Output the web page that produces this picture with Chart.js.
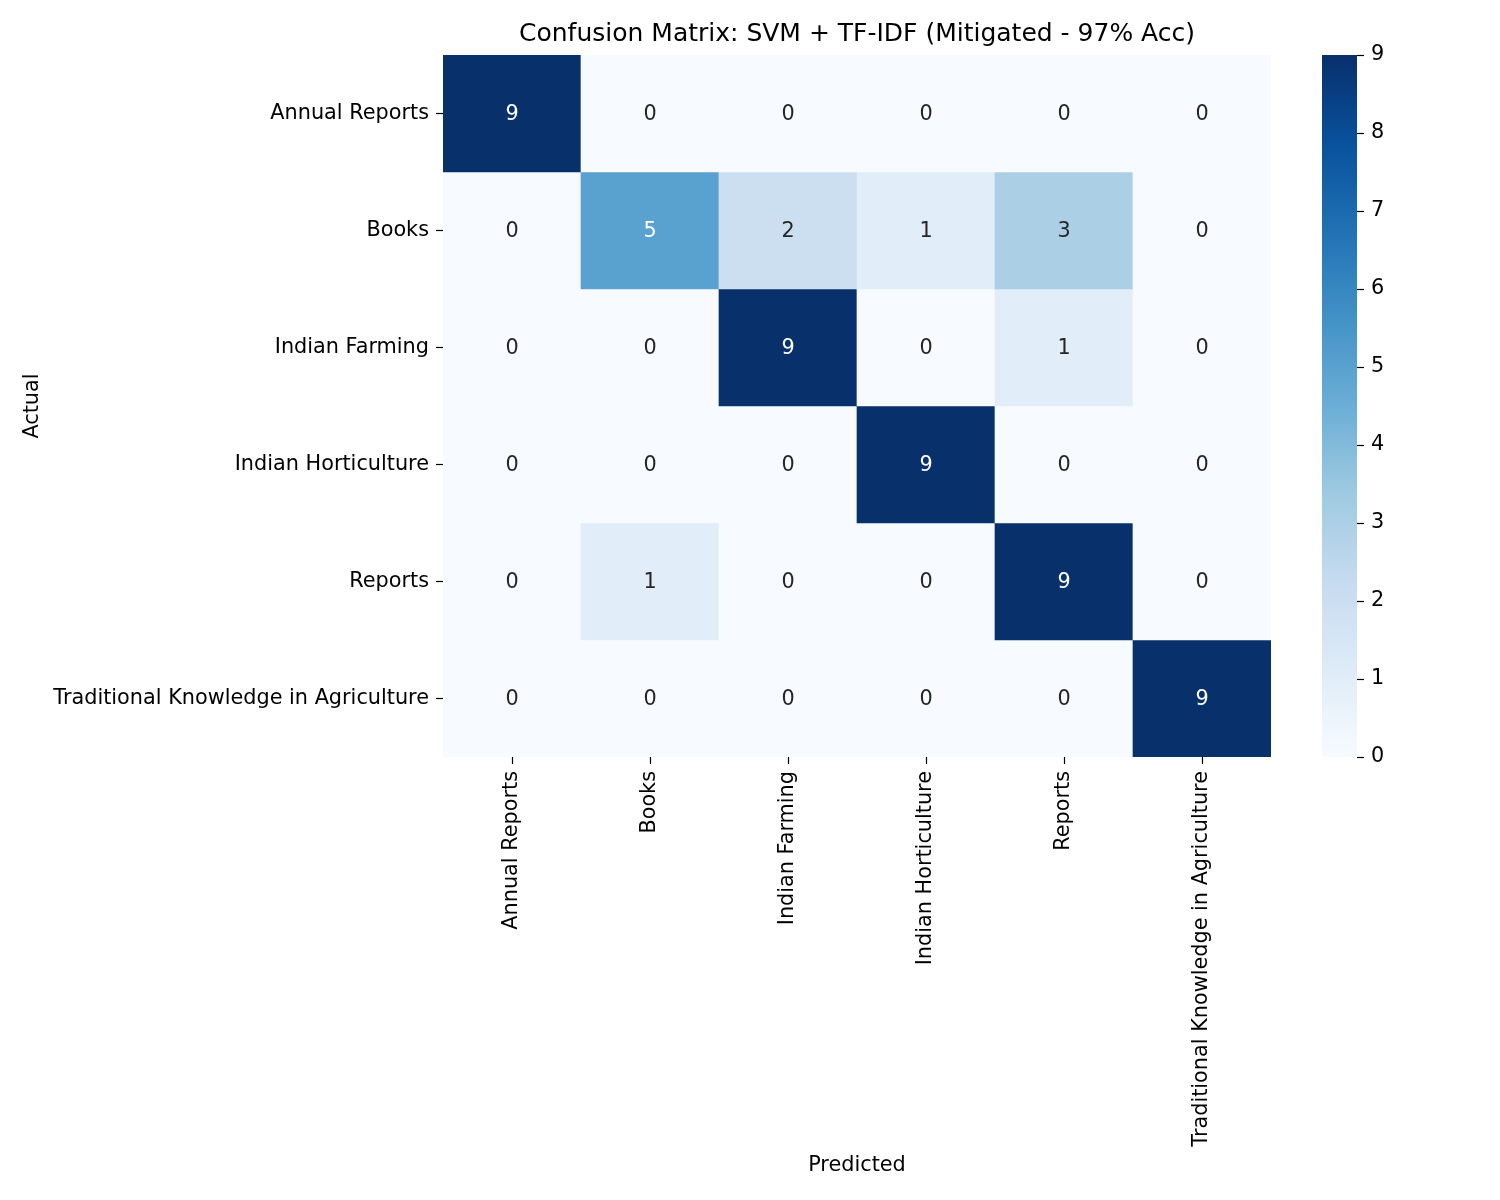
<!DOCTYPE html>
<html>
<head>
<meta charset="utf-8">
<script src="https://cdn.jsdelivr.net/npm/chart.js@4.4.1/dist/chart.umd.min.js"></script>
<style>
  html, body { margin: 0; padding: 0; background: #fff; }
  #wrap { position: relative; width: 1500px; height: 1200px; }
  #main { position: absolute; left: 0; top: 0; }
  #cbar { position: absolute; left: 1300px; top: 0; }
</style>
</head>
<body>
<div id="wrap">
  <canvas id="main" width="1500" height="1200"></canvas>
  <canvas id="cbar" width="120" height="1200"></canvas>
</div>
<script>
const classLabels = ['Annual Reports', 'Books', 'Indian Farming', 'Indian Horticulture', 'Reports', 'Traditional Knowledge in Agriculture'];

// rows = actual, columns = predicted
const rowAnnual = [9, 0, 0, 0, 0, 0];
const rowBooks = [0, 5, 2, 1, 3, 0];
const rowFarming = [0, 0, 9, 0, 1, 0];
const rowHorti = [0, 0, 0, 9, 0, 0];
const rowReports = [0, 1, 0, 0, 9, 0];
const rowTrad = [0, 0, 0, 0, 0, 9];
const matrix = [rowAnnual, rowBooks, rowFarming, rowHorti, rowReports, rowTrad];

const colorbarTicks = [0, 1, 2, 3, 4, 5, 6, 7, 8, 9];
const vmin = 0, vmax = 9;

// matplotlib "Blues"
const blues = ['#f7fbff', '#deebf7', '#c6dbef', '#9ecae1', '#6baed6', '#4292c6', '#2171b5', '#08519c', '#08306b'];

const FONT = 'DejaVu Sans';

function hexToRgb(h) {
    return [parseInt(h.slice(1, 3), 16), parseInt(h.slice(3, 5), 16), parseInt(h.slice(5, 7), 16)];
}

function cmap(t) {
    t = Math.max(0, Math.min(1, t));
    const pos = t * (blues.length - 1);
    const i = Math.min(Math.floor(pos), blues.length - 2);
    const f = pos - i;
    const a = hexToRgb(blues[i]), b = hexToRgb(blues[i + 1]);
    return a.map((c, k) => Math.round(c + (b[k] - c) * f));
}

function rgbStr(c) { return `rgb(${c[0]},${c[1]},${c[2]})`; }

function luminance(c) {
    const lin = c.map(v => {
        v = v / 255;
        return v <= 0.03928 ? v / 12.92 : Math.pow((v + 0.055) / 1.055, 2.4);
    });
    return 0.2126 * lin[0] + 0.7152 * lin[1] + 0.0722 * lin[2];
}

const datasets = matrix.map((row, r) => ({
    label: classLabels[r],
    data: row.map(() => [r, r + 1]),
    values: row,
    backgroundColor: row.map(v => rgbStr(cmap((v - vmin) / (vmax - vmin)))),
    borderWidth: 0,
    grouped: false,
    barPercentage: 1,
    categoryPercentage: 1
}));

// writes the count in the middle of each cell
const annotate = {
    id: 'annotate',
    afterDatasetsDraw(chart) {
        const ctx = chart.ctx;
        const xs = chart.scales.x, ys = chart.scales.y;
        ctx.save();
        ctx.font = `20.8px "${FONT}"`;
        ctx.textAlign = 'center';
        ctx.textBaseline = 'middle';
        chart.data.datasets.forEach((ds, r) => {
            ds.values.forEach((v, c) => {
                const col = cmap((v - vmin) / (vmax - vmin));
                ctx.fillStyle = luminance(col) > 0.408 ? '#262626' : '#ffffff';
                ctx.fillText(String(v), xs.getPixelForValue(c), ys.getPixelForValue(r + 0.5) + 1.5);
            });
        });
        ctx.restore();
    }
};

const tickFont = { family: FONT, size: 20.8 };

new Chart(document.getElementById('main'), {
    type: 'bar',
    data: { labels: classLabels, datasets: datasets },
    options: {
        responsive: false,
        animation: false,
        layout: { padding: { left: 0, right: 229, top: 0, bottom: 0 } },
        plugins: {
            legend: { display: false },
            tooltip: { enabled: false },
            title: {
                display: true,
                text: 'Confusion Matrix: SVM + TF-IDF (Mitigated - 97% Acc)',
                color: '#000',
                fullSize: false,
                font: { family: FONT, size: 25, weight: 'normal' },
                padding: { top: 19, bottom: 6 }
            }
        },
        scales: {
            x: {
                type: 'category',
                offset: true,
                afterFit: (scale) => { scale.height = 443; },
                grid: { offset: false, drawOnChartArea: false, drawTicks: true, tickLength: 7, tickColor: '#000', tickWidth: 1.2 },
                border: { display: false },
                ticks: { color: '#000', font: tickFont, minRotation: 90, maxRotation: 90, padding: 7, autoSkip: false },
                title: { display: true, text: 'Predicted', color: '#000', font: tickFont, padding: { top: 0, bottom: 22 } }
            },
            y: {
                type: 'linear',
                min: 0,
                max: classLabels.length,
                reverse: true,
                afterFit: (scale) => { scale.width = 443; },
                afterBuildTicks: (scale) => {
                    scale.ticks = classLabels.map((_, i) => ({ value: i + 0.5 }));
                },
                grid: { drawOnChartArea: false, drawTicks: true, tickLength: 7, tickColor: '#000', tickWidth: 1.2 },
                border: { display: false },
                ticks: {
                    color: '#000',
                    font: tickFont,
                    padding: 7,
                    autoSkip: false,
                    callback: (value) => classLabels[Math.floor(value)]
                },
                title: { display: true, text: 'Actual', color: '#000', font: tickFont, padding: { top: 20, bottom: 0 } }
            }
        }
    },
    plugins: [annotate]
});

// colour bar: one floating bar filled with the colormap gradient
new Chart(document.getElementById('cbar'), {
    type: 'bar',
    data: {
        labels: [''],
        datasets: [{
            data: [[vmin, vmax]],
            borderWidth: 0,
            barPercentage: 1,
            categoryPercentage: 1,
            backgroundColor: (ctx) => {
                const area = ctx.chart.chartArea;
                if (!area) return blues[0];
                const g = ctx.chart.ctx.createLinearGradient(0, area.bottom, 0, area.top);
                blues.forEach((c, i) => g.addColorStop(i / (blues.length - 1), c));
                return g;
            }
        }]
    },
    options: {
        responsive: false,
        animation: false,
        layout: { padding: { left: 22, right: 0, top: 55, bottom: 443 } },
        plugins: { legend: { display: false }, tooltip: { enabled: false } },
        scales: {
            x: { display: false },
            y: {
                position: 'right',
                min: vmin,
                max: vmax,
                afterFit: (scale) => { scale.width = 63; },
                afterBuildTicks: (scale) => {
                    scale.ticks = colorbarTicks.map(v => ({ value: v }));
                },
                grid: { drawOnChartArea: false, drawTicks: true, tickLength: 7, tickColor: '#000', tickWidth: 1.2 },
                border: { display: false },
                ticks: { color: '#000', font: tickFont, padding: 7 }
            }
        }
    }
});
</script>
</body>
</html>
